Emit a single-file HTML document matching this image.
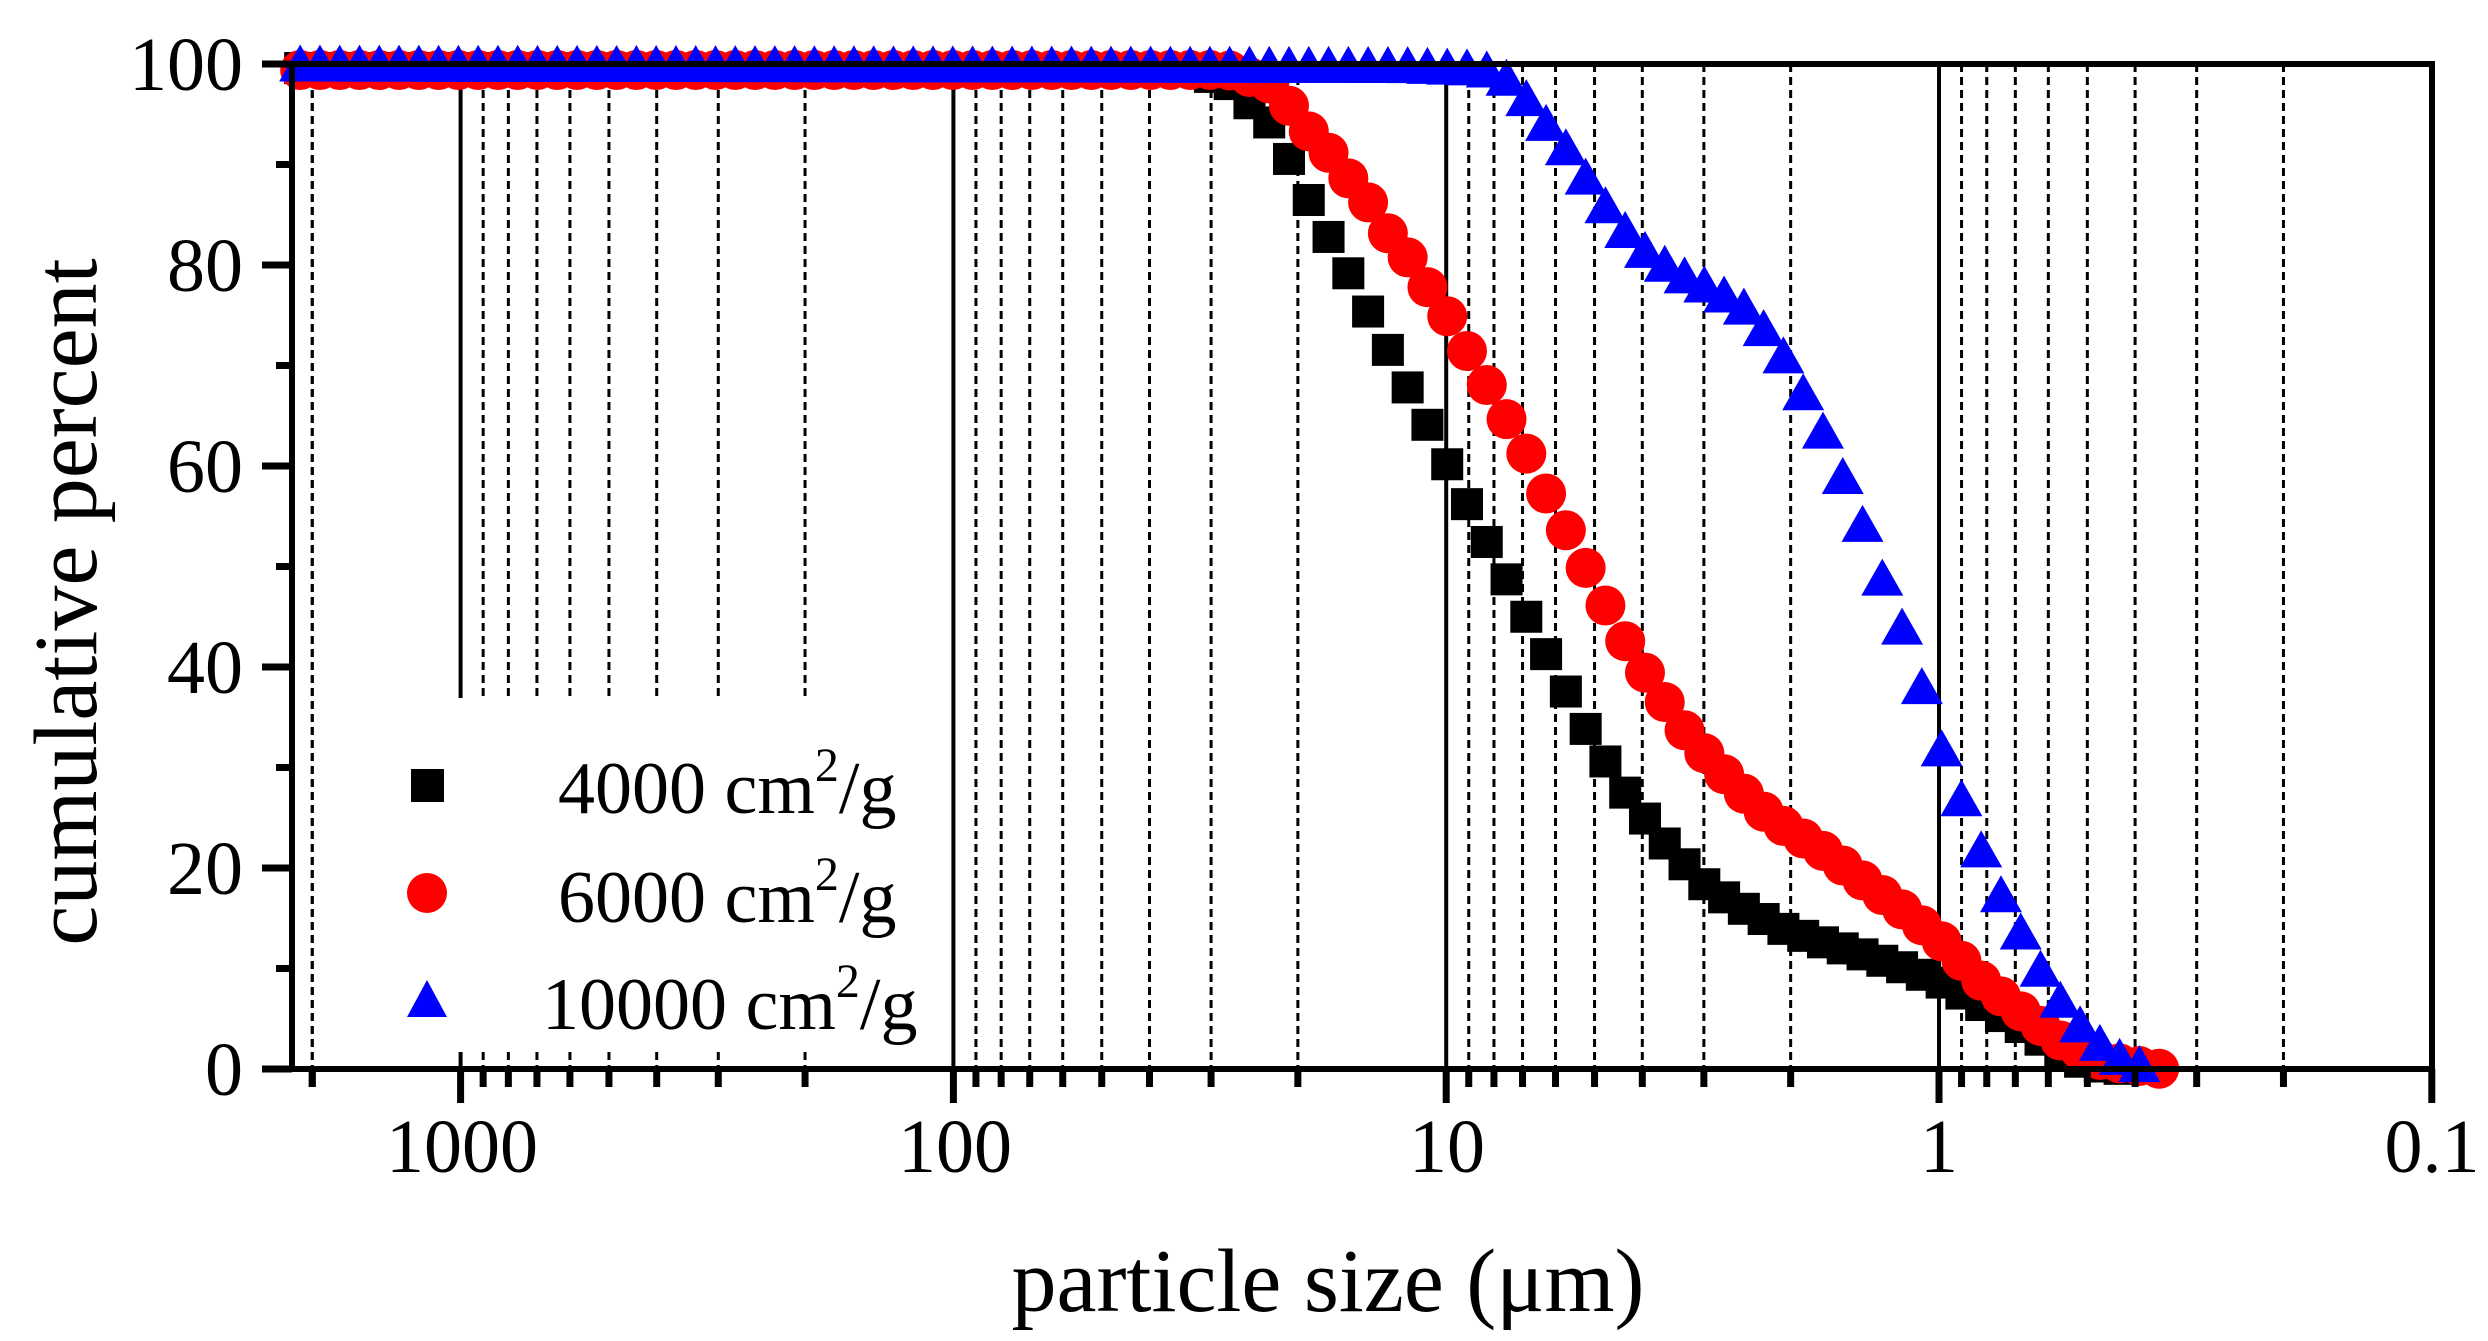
<!DOCTYPE html>
<html><head><meta charset="utf-8"><style>
html,body{margin:0;padding:0;background:#fff;}
svg{display:block;}
text{font-family:"Liberation Serif",serif;fill:#000;}
</style></head><body>
<svg id="s" width="2488" height="1341" viewBox="0 0 2488 1341" xmlns="http://www.w3.org/2000/svg">
<g id="grid"></g>
<g id="data"></g>
<rect x="330" y="698" width="615" height="354" fill="#fff"/>
<g id="axes"></g>
<g font-size="76" text-anchor="end">
<text x="243" y="1095">0</text>
<text x="243" y="894">20</text>
<text x="243" y="693">40</text>
<text x="243" y="492">60</text>
<text x="243" y="291">80</text>
<text x="243" y="90">100</text>
</g>
<g font-size="76" text-anchor="middle">
<text x="462" y="1172">1000</text>
<text x="955" y="1172">100</text>
<text x="1447" y="1172">10</text>
<text x="1939" y="1172">1</text>
<text x="2432" y="1172">0.1</text>
</g>
<text x="1328" y="1311" font-size="90" text-anchor="middle">particle size (μm)</text>
<text transform="translate(96,602) rotate(-90)" font-size="90" text-anchor="middle">cumulative percent</text>
<rect x="411" y="769" width="33" height="33" fill="#000"/>
<circle cx="427" cy="893" r="20" fill="#f00"/>
<polygon points="427,980 407,1017 447,1017" fill="#00f"/>
<g font-size="74">
<text x="558" y="813">4000 cm<tspan font-size="48" dy="-32">2</tspan><tspan dy="32">/g</tspan></text>
<text x="558" y="922">6000 cm<tspan font-size="48" dy="-32">2</tspan><tspan dy="32">/g</tspan></text>
<text x="542" y="1029">10000 cm<tspan font-size="48" dy="-32">2</tspan><tspan dy="32">/g</tspan></text>
</g>
</svg>
<script>
var NS="http://www.w3.org/2000/svg";
var L=292,R=2432,T=64,B=1069;
function X(d){return 1939-492.8*Math.log10(d);}
function Y(p){return B-(B-T)*p/100;}
function el(p,n,a){var e=document.createElementNS(NS,n);for(var k in a)e.setAttribute(k,a[k]);p.appendChild(e);return e;}
var grid=document.getElementById('grid'),axes=document.getElementById('axes'),data=document.getElementById('data');
var vals=[2000];
[1000,100,10,1,0.1].forEach(function(dec){for(var m=1;m<=9;m++){vals.push(dec*m);}});
vals.forEach(function(v){
 var x=X(v); if(x<L+5||x>R+1)return;
 var major=Math.abs(Math.log10(v)-Math.round(Math.log10(v)))<1e-6;
 if(x<R-3){
  if(major) el(grid,'line',{x1:x,y1:T,x2:x,y2:B,stroke:'#000','stroke-width':4});
  else el(grid,'line',{x1:x,y1:T,x2:x,y2:B,stroke:'#000','stroke-width':3,'stroke-dasharray':'8 5'});
 }
 el(axes,'line',{x1:x,y1:B,x2:x,y2:B+(major?34:18),stroke:'#000','stroke-width':7});
});
el(axes,'rect',{x:L,y:T,width:R-L,height:B-T,fill:'none',stroke:'#000','stroke-width':6});
for(var p=0;p<=100;p+=10){var y=Y(p);el(axes,'line',{x1:L,y1:y,x2:L-(p%20==0?30:16),y2:y,stroke:'#000','stroke-width':7});}
var S=1.5949;
var black=[[183,99.6],[745,99.5],[771,98],[797,94],[810,90],[822,86],[846,79],[872,71],[897,63.5],[922,55.5],[947,48],[972,40.5],[997,33],[1021,27],[1046,22],[1071,18],[1096,15.7],[1120,13.8],[1145,12.5],[1170,11.3],[1195,10],[1219,8.5],[1244,6.2],[1269,4],[1293,1.5],[1306,0.6],[1318,0.2],[1330,0]];
var red=[[183,99.4],[770,99.4],[797,98],[810,95.5],[822,93],[834,91],[846,88.5],[859,86],[872,82.7],[884,80.5],[897,77.3],[910,74.3],[922,70.8],[935,67.3],[947,64],[960,60.4],[972,56.4],[985,52.7],[997,49],[1009,45.4],[1021,42],[1034,38.8],[1046,36],[1058,33.3],[1071,31],[1083,29],[1096,27],[1108,25.3],[1120,24],[1145,21.5],[1170,18.5],[1195,15.6],[1219,12.5],[1244,8.5],[1269,5.5],[1293,2.7],[1318,0.8],[1355,0]];
var blue=[[183,99.95],[880,99.8],[930,99.5],[945,98.5],[960,96],[972,93.5],[985,91],[997,88],[1009,85.3],[1021,83],[1034,81],[1046,79.8],[1058,78.7],[1071,77.8],[1083,76.8],[1096,75.5],[1108,73.2],[1120,70.5],[1133,66.5],[1145,62.8],[1157,58.3],[1170,53.3],[1182,48],[1195,43],[1207,37],[1219,31],[1232,26],[1244,21],[1256,16.8],[1269,13],[1281,9.4],[1293,6.5],[1306,4],[1318,2.3],[1330,1],[1343,0.3],[1350,0]];
function interp(c,x){for(var i=1;i<c.length;i++){if(x<=c[i][0]){var a=c[i-1],b=c[i];return a[1]+(b[1]-a[1])*(x-a[0])/(b[0]-a[0]);}}return null;}
function draw(c,kind,color){
 var step=12.4,x0=771; var xs=[];
 for(var x=x0;x>=187;x-=step)xs.push(x);
 for(var x=x0+step;x<=c[c.length-1][0]+0.5;x+=step)xs.push(x);
 xs.sort(function(a,b){return a-b;});
 xs.forEach(function(x){var p=interp(c,x);if(p==null)return;var X0=x*S,Y0=Y(p);
  if(kind=='s')el(data,'rect',{x:X0-16,y:Y0-16,width:32,height:32,fill:color});
  else if(kind=='c')el(data,'ellipse',{cx:X0,cy:Y0,rx:20,ry:20,fill:color});
  else el(data,'polygon',{points:(X0)+','+(Y0-20)+' '+(X0-21)+','+(Y0+17)+' '+(X0+21)+','+(Y0+17),fill:color});
 });
}
draw(black,'s','#000');draw(red,'c','#f00');draw(blue,'t','#00f');
</script>
</body></html>
